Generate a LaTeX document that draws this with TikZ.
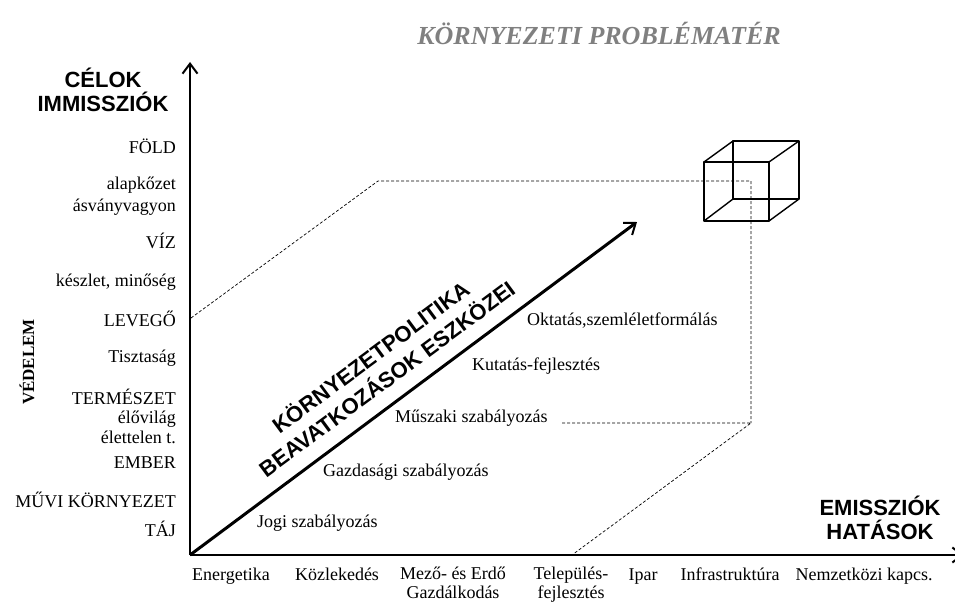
\documentclass[tikz,border=0pt]{standalone}
\usepackage{fontspec}
\setmainfont{Liberation Serif}
\newfontfamily\headsans{Liberation Sans}
\usetikzlibrary{arrows.meta}

\begin{document}
\begin{tikzpicture}[x=1pt,y=-1pt,
  lbl/.style={font=\fontsize{18}{20}\selectfont, inner sep=0pt},
  ylbl/.style={lbl, anchor=east, align=right},
  xlbl/.style={lbl, font=\fontsize{18}{19.5}\selectfont, anchor=base, align=center},
  dlbl/.style={lbl, anchor=west},
  head/.style={font=\headsans\bfseries\fontsize{22}{24}\selectfont, inner sep=0pt, align=center},
  barb/.style={-{Straight Barb[length=10pt,width=15pt,line width=2pt]}},
  axis/.style={line width=2.6pt, barb},
  guide/.style={line width=0.7pt, dash pattern=on 3pt off 2pt},
  cubeedge/.style={line width=1.4pt, line join=round}]
\useasboundingbox (0,0) rectangle (955,602);

% axes
\coordinate (O) at (190,555);
\coordinate (Ytop) at (190,62);
\coordinate (Xend) at (964,555);
\coordinate (Dtip) at (637,222);
\draw[axis] (O) -- (Ytop);
\draw[axis] (O) -- (Xend);
\draw[axis, line width=3pt] (O) -- (Dtip);

% dashed guide lines
\coordinate (g1) at (191,318);
\coordinate (g2) at (378,181);
\coordinate (g3) at (751,181);
\coordinate (g4) at (751,423);
\coordinate (g5) at (562,423);
\coordinate (g6) at (572,555);
\draw[guide] (g1) -- (g2) -- (g3) -- (g4);
\draw[guide] (g5) -- (g4) -- (g6);

% cube
\coordinate (fa) at (704,162);
\coordinate (fb) at (769,162);
\coordinate (fc) at (769,221);
\coordinate (fd) at (704,221);
\coordinate (ba) at (733,141);
\coordinate (bb) at (799,141);
\coordinate (bc) at (799,199);
\coordinate (bd) at (733,199);
\draw[cubeedge] (fa) -- (fb) -- (fc) -- (fd) -- cycle;
\draw[cubeedge] (ba) -- (bb) -- (bc) -- (bd) -- cycle;
\draw[cubeedge] (fa) -- (ba) (fb) -- (bb) (fc) -- (bc) (fd) -- (bd);

% title
\node[font=\bfseries\itshape\fontsize{26}{28}\selectfont, text=black!50, inner sep=0pt] (title) at (599,33) {KÖRNYEZETI PROBLÉMATÉR};

% axis headings
\node[head] (celok) at (103,90) {CÉLOK\\IMMISSZIÓK};
\node[head] (emis) at (880,518) {EMISSZIÓK\\HATÁSOK};
\node[font=\bfseries\fontsize{17}{19}\selectfont, rotate=90, inner sep=0pt] (vedelem) at (27,362) {VÉDELEM};

% vertical axis labels
\node[ylbl] (fold) at (176,146) {FÖLD};
\node[ylbl, font=\fontsize{18}{22}\selectfont] (alap) at (176,196) {alapkőzet\\ásványvagyon};
\node[ylbl] (viz) at (176,241) {VÍZ};
\node[ylbl] (keszlet) at (176,282) {készlet, minőség};
\node[ylbl] (levego) at (176,319) {LEVEGŐ};
\node[ylbl] (tiszta) at (176,358) {Tisztaság};
\node[ylbl, font=\fontsize{18}{19.5}\selectfont] (term) at (176,416) {TERMÉSZET\\élővilág\\élettelen t.};
\node[ylbl] (ember) at (176,463) {EMBER};
\node[ylbl] (muvi) at (176,500) {MŰVI KÖRNYEZET};
\node[ylbl] (taj) at (176,529) {TÁJ};

% horizontal axis labels (base = last line's baseline)
\node[xlbl] (ener) at (231,580) {Energetika};
\node[xlbl] (kozl) at (337,580) {Közlekedés};
\node[xlbl] (mezo) at (453,598.5) {Mező- és Erdő\\Gazdálkodás};
\node[xlbl] (telep) at (571,598.5) {Település-\\fejlesztés};
\node[xlbl] (ipar) at (643,580) {Ipar};
\node[xlbl] (infra) at (730,580) {Infrastruktúra};
\node[xlbl] (nemz) at (864,580) {Nemzetközi kapcs.};

% policy instruments along the diagonal
\node[dlbl] (jogi) at (257,523) {Jogi szabályozás};
\node[dlbl] (gazd) at (323,472) {Gazdasági szabályozás};
\node[dlbl] (musz) at (395,418) {Műszaki szabályozás};
\node[dlbl] (kut) at (472,366) {Kutatás-fejlesztés};
\node[dlbl] (okt) at (527,321) {Oktatás,szemléletformálás};

\node[head, font=\headsans\bfseries\fontsize{22}{27}\selectfont, rotate=36.5] (politika) at (378,367) {KÖRNYEZETPOLITIKA\\BEAVATKOZÁSOK ESZKÖZEI};
\end{tikzpicture}
\end{document}
